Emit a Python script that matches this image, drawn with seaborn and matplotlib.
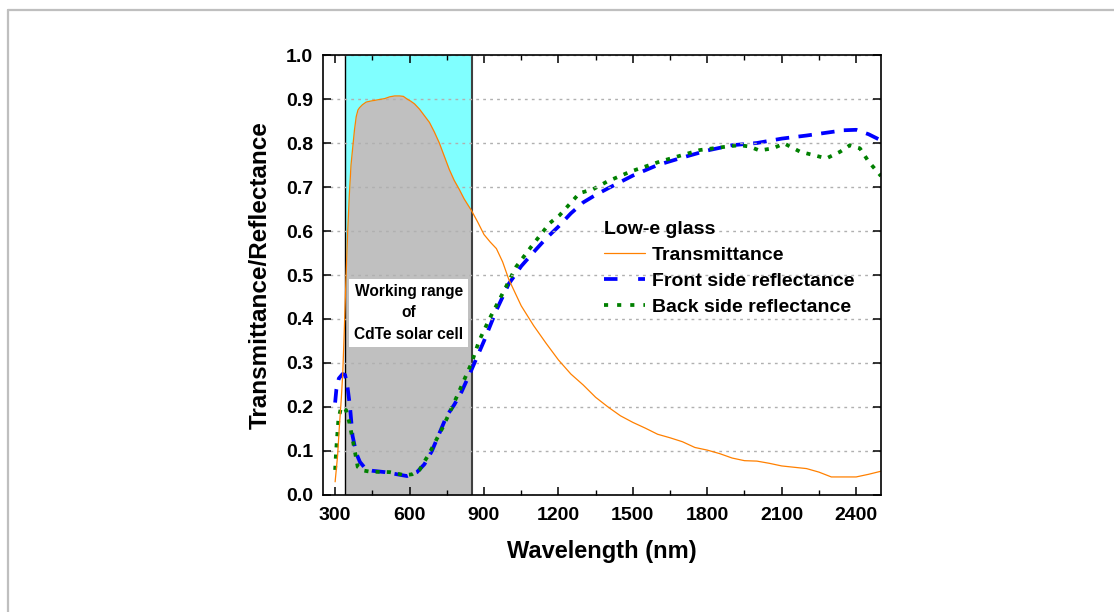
import numpy as np
import pandas as pd
import matplotlib
matplotlib.use("Agg")
import matplotlib.pyplot as plt
from matplotlib.ticker import MultipleLocator
from matplotlib.lines import Line2D
import seaborn as sns

# ---------------- data ----------------
wl_T = [300, 310, 317, 325, 331, 337, 343, 350, 357, 364, 371, 378, 385, 392, 398,
        410, 425, 440, 460, 480, 500, 520, 540, 560, 575, 590, 605, 620, 640, 660,
        680, 700, 720, 740, 760, 780, 800, 820, 850, 875, 900, 925, 950, 975, 1000,
        1050, 1100, 1150, 1200, 1250, 1300, 1350, 1400, 1450, 1500, 1550, 1600, 1650,
        1700, 1750, 1800, 1850, 1900, 1950, 2000, 2050, 2100, 2150, 2200, 2250, 2300,
        2350, 2400, 2450, 2500]
transmittance = [0.03, 0.09, 0.155, 0.22, 0.28, 0.375, 0.48, 0.59, 0.68, 0.75, 0.79,
                 0.83, 0.86, 0.875, 0.88, 0.887, 0.893, 0.895, 0.897, 0.899, 0.901,
                 0.905, 0.907, 0.907, 0.906, 0.90, 0.895, 0.889, 0.877, 0.862, 0.847,
                 0.825, 0.80, 0.77, 0.74, 0.715, 0.695, 0.673, 0.646, 0.62, 0.592,
                 0.575, 0.56, 0.53, 0.49, 0.43, 0.385, 0.345, 0.307, 0.275, 0.25,
                 0.222, 0.20, 0.18, 0.165, 0.152, 0.138, 0.13, 0.121, 0.108, 0.102,
                 0.094, 0.084, 0.078, 0.077, 0.072, 0.066, 0.063, 0.06, 0.052, 0.041,
                 0.041, 0.041, 0.047, 0.054]

wl_F = [300, 305, 315, 330, 340, 350, 360, 370, 385, 400, 425, 450, 500, 550, 590,
        630, 660, 690, 720, 750, 780, 810, 850, 900, 950, 1000, 1050, 1100, 1150,
        1200, 1250, 1300, 1350, 1400, 1500, 1600, 1700, 1800, 1900, 2000, 2100, 2200,
        2300, 2350, 2400, 2450, 2500]
front_refl = [0.21, 0.24, 0.265, 0.275, 0.273, 0.245, 0.20, 0.135, 0.095, 0.075,
              0.058, 0.055, 0.052, 0.047, 0.043, 0.052, 0.07, 0.10, 0.14, 0.18, 0.205,
              0.235, 0.285, 0.35, 0.42, 0.48, 0.52, 0.552, 0.583, 0.61, 0.64, 0.665,
              0.682, 0.697, 0.726, 0.75, 0.767, 0.783, 0.795, 0.80, 0.81, 0.817, 0.825,
              0.829, 0.83, 0.82, 0.806]

wl_B = [300, 304, 313, 324, 344, 358, 371, 391, 410, 440, 520, 580, 610, 640, 680,
        735, 790, 850, 880, 920, 975, 1030, 1090, 1165, 1205, 1285, 1340, 1395, 1490,
        1610, 1770, 1880, 1930, 1970, 2010, 2065, 2110, 2175, 2225, 2280, 2335, 2375,
        2415, 2450, 2500]
back_refl = [0.057, 0.10, 0.17, 0.20, 0.193, 0.163, 0.125, 0.064, 0.056, 0.053, 0.052,
             0.045, 0.047, 0.057, 0.095, 0.155, 0.223, 0.30, 0.35, 0.398, 0.458, 0.519,
             0.564, 0.618, 0.636, 0.686, 0.695, 0.712, 0.735, 0.758, 0.784, 0.792,
             0.795, 0.792, 0.783, 0.788, 0.799, 0.78, 0.773, 0.765, 0.78, 0.795, 0.788,
             0.758, 0.725]

working_range = [340, 850]
labels = ["Transmittance", "Front side reflectance", "Back side reflectance"]
legend_title = "Low-e glass"
range_text = "Working range\nof\nCdTe solar cell"

# ---------------- style ----------------
sns.set_theme(style="ticks")
plt.rcParams["font.family"] = ["Liberation Sans", "DejaVu Sans"]
plt.rcParams["font.weight"] = "bold"
plt.rcParams["axes.labelweight"] = "bold"
for k in ["text.color", "axes.labelcolor", "xtick.color", "ytick.color",
          "axes.edgecolor", "legend.labelcolor"]:
    plt.rcParams[k] = "black"

fig = plt.figure(figsize=(11.14, 6.12), dpi=100, facecolor="white")
ax = fig.add_axes([0.2897, 0.1912, 0.7908 - 0.2897, 0.9101 - 0.1912])
ax.set_facecolor("white")

# frame lines of the picture (top & left)
fig.add_artist(Line2D([8 / 1114, 1.0], [1 - 9.5 / 612] * 2, transform=fig.transFigure,
                      color="#bfbfbf", lw=1.6))
fig.add_artist(Line2D([8 / 1114] * 2, [0.0, 1 - 9.5 / 612], transform=fig.transFigure,
                      color="#bfbfbf", lw=1.6))

# working range shading
ax.axvspan(working_range[0], working_range[1], color="#80ffff", lw=0, zorder=0.5)
wlT = np.array(wl_T, float)
T = np.array(transmittance, float)
inside = (wlT > working_range[0]) & (wlT < working_range[1])
fx = np.concatenate([[working_range[0]], wlT[inside], [working_range[1]]])
fy = np.concatenate([[np.interp(working_range[0], wlT, T)], T[inside],
                     [np.interp(working_range[1], wlT, T)]])
ax.fill_between(fx, 0, fy, color="#c0c0c0", lw=0, zorder=0.6)
ax.axvline(working_range[0], color="black", lw=1.0, zorder=0.7)
ax.axvline(working_range[1], color="#404040", lw=1.5, zorder=0.7)

# grid
ax.yaxis.grid(True, color="#b0b0b0", linestyle=(0, (2, 3)), lw=1.0, zorder=0.8)
ax.xaxis.grid(False)
ax.set_axisbelow(False)

dfT = pd.DataFrame({"wl": wl_T, "v": transmittance})
dfF = pd.DataFrame({"wl": wl_F, "v": front_refl})
dfB = pd.DataFrame({"wl": wl_B, "v": back_refl})

sns.lineplot(data=dfT, x="wl", y="v", ax=ax, color="#ff8000", lw=0.9, zorder=3)
sns.lineplot(data=dfF, x="wl", y="v", ax=ax, color="#0000ff", lw=2.7, zorder=2)
sns.lineplot(data=dfB, x="wl", y="v", ax=ax, color="#008000", lw=2.7, zorder=2.5)
lines = ax.get_lines()[-3:]
lines[1].set_linestyle((0, (3.6, 2.5)))
lines[2].set_linestyle((0, (1.1, 1.9)))

ax.set_xlim(250, 2500)
ax.set_ylim(0, 1.0)
ax.xaxis.set_major_locator(MultipleLocator(300))
ax.xaxis.set_minor_locator(MultipleLocator(150))
ax.yaxis.set_major_locator(MultipleLocator(0.1))
ax.yaxis.set_major_formatter(matplotlib.ticker.FormatStrFormatter("%.1f"))

ax.tick_params(axis="both", which="major", direction="in", top=True, right=True,
               length=6, width=1.1, labelsize=14, pad=7, colors="black")
ax.tick_params(axis="x", which="major", pad=9)
ax.tick_params(axis="x", which="minor", direction="in", top=True, length=3.5, width=1.0)
for lab in ax.get_xticklabels() + ax.get_yticklabels():
    lab.set_fontweight("bold")
for s in ax.spines.values():
    s.set_visible(True)
    s.set_color("black")
    s.set_linewidth(1.2)
    s.set_zorder(5)

ax.set_xlabel("Wavelength (nm)", fontsize=17, fontweight="bold", labelpad=11)
ax.set_ylabel("Transmittance/Reflectance", fontsize=17.5, fontweight="bold", labelpad=10)

# text box
ax.text(596, 0.414, range_text, ha="center", va="center", fontsize=11.2,
        fontweight="bold", linespacing=1.55, zorder=4,
        bbox=dict(facecolor="white", edgecolor="none", pad=3.5))

# legend
handles = [Line2D([], [], color="#ff8000", lw=0.9),
           Line2D([], [], color="#0000ff", lw=2.7, linestyle=(0, (3.6, 5.5))),
           Line2D([], [], color="#008000", lw=2.7, linestyle=(0, (1.1, 2.4)))]
leg = ax.legend(handles, labels, title=legend_title, loc="upper left",
                bbox_to_anchor=(604 / 1114, 1 - 221 / 612),
                bbox_transform=fig.transFigure, frameon=False,
                title_fontsize=14, handlelength=2.1, handletextpad=0.35,
                labelspacing=0.42, borderpad=0, borderaxespad=0, alignment="left",
                prop={"weight": "bold", "size": 14})
leg.get_title().set_fontweight("bold")
leg._legend_box.sep = 6

fig.savefig("out.png", dpi=100, facecolor="white")
